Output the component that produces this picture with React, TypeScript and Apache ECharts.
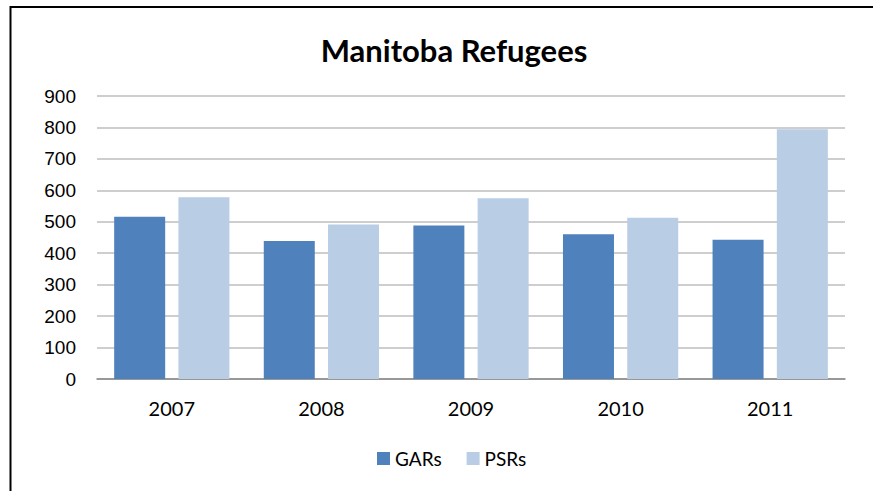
import React, { useEffect, useRef } from "react";
import * as echarts from "echarts";

const categories = ["2007", "2008", "2009", "2010", "2011"];
const gars = [516, 439, 488, 460, 443];
const psrs = [578, 491, 575, 513, 794];
const seriesNames = ["GARs", "PSRs"];

export default function App() {
  const ref = useRef<HTMLDivElement>(null);
  useEffect(() => {
    if (!ref.current) return;
    const chart = echarts.init(ref.current, null, { renderer: "svg" });
    chart.setOption({
      animation: false,
      backgroundColor: "#ffffff",
      title: {
        text: "Manitoba Refugees",
        left: 449,
        textAlign: "center",
        top: 29,
        textStyle: { fontFamily: "Lato", fontWeight: "bold", fontSize: 31, color: "#000" },
      },
      grid: { left: 97, right: 28, top: 96, bottom: 112, containLabel: false },
      legend: {
        data: seriesNames,
        left: 372,
        top: 444,
        itemWidth: 13,
        itemHeight: 13,
        itemGap: 25,
        icon: "rect",
        textStyle: { fontFamily: "Lato", fontSize: 19, color: "#000" },
      },
      xAxis: {
        type: "category",
        data: categories,
        axisLine: { lineStyle: { color: "#868686", width: 1.5 } },
        axisTick: { show: false },
        axisLabel: { fontFamily: "Lato", fontSize: 20, color: "#000", margin: 19 },
      },
      yAxis: {
        type: "value",
        min: 0,
        max: 900,
        interval: 100,
        axisLine: { show: false },
        axisTick: { show: false },
        splitLine: { lineStyle: { color: "#BEBEBE", width: 1.5 } },
        axisLabel: { fontFamily: "Liberation Sans", fontSize: 19, color: "#000", margin: 21 },
      },
      series: [
        {
          name: seriesNames[0],
          type: "bar",
          data: gars,
          barWidth: 51,
          barGap: "26%",
          itemStyle: { color: "#4F81BD" },
        },
        {
          name: seriesNames[1],
          type: "bar",
          data: psrs,
          barWidth: 51,
          barGap: "26%",
          itemStyle: { color: "#B9CDE5" },
        },
      ],
      graphic: [
        { type: "line", shape: { x1: 10, y1: 7, x2: 873, y2: 7 }, style: { stroke: "#000", lineWidth: 2 } },
        { type: "line", shape: { x1: 10.5, y1: 6, x2: 10.5, y2: 491 }, style: { stroke: "#000", lineWidth: 2 } },
      ],
    });
    return () => chart.dispose();
  }, []);
  return <div ref={ref} style={{ position: "fixed", left: 0, top: 0, width: 873, height: 491 }} />;
}
